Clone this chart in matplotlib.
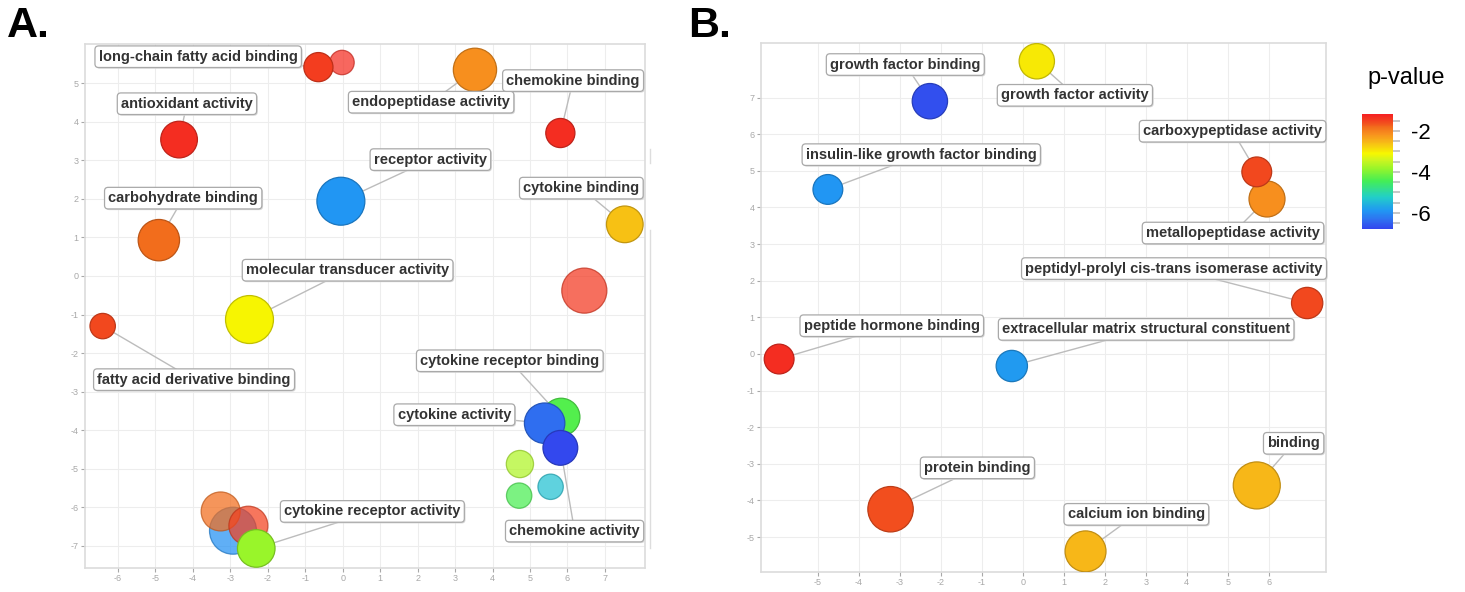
import matplotlib
matplotlib.use("Agg")
import matplotlib.pyplot as plt
import numpy as np
from matplotlib.colors import LinearSegmentedColormap, Normalize, to_rgba
from matplotlib.cm import ScalarMappable
from matplotlib.lines import Line2D
import matplotlib.transforms as mtransforms

plt.rcParams['axes.unicode_minus'] = False
plt.rcParams['font.family'] = ['Liberation Sans', 'DejaVu Sans']

# ---------------- Panel A data (drawing order) ----------------
A_term = [None, "long-chain fatty acid binding", "endopeptidase activity", "chemokine binding",
          "antioxidant activity", "receptor activity", "cytokine binding", "carbohydrate binding",
          None, "molecular transducer activity", "fatty acid derivative binding",
          None, None, None,
          "cytokine receptor binding", "cytokine activity", "chemokine activity",
          None, None, None, "cytokine receptor activity"]
A_x = [-0.02, -0.65, 3.53, 5.81, -4.37, -0.05, 7.53, -4.91, 6.45, -2.49, -6.41,
       4.73, 4.71, 5.55, 5.83, 5.39, 5.81, -2.93, -3.26, -2.52, -2.31]
A_y = [5.54, 5.42, 5.35, 3.71, 3.54, 1.94, 1.34, 0.93, -0.38, -1.13, -1.30,
       -4.88, -5.70, -5.47, -3.66, -3.82, -4.46, -6.61, -6.11, -6.48, -7.07]
A_logp = [-1.30, -1.46, -2.14, -1.29, -1.29, -5.90, -2.62, -1.80, -1.40, -3.09, -1.57,
          -3.66, -4.40, -5.40, -4.33, -6.36, -6.75, -5.97, -1.80, -1.50, -3.83]
A_logsize = [2.6, 3.1, 4.6, 3.1, 3.9, 5.1, 3.9, 4.4, 4.8, 5.1, 2.7,
             2.9, 2.7, 2.7, 4.0, 4.3, 3.7, 5.0, 4.15, 4.15, 4.0]
A_label_x = [None, -3.86, 2.36, 6.15, -4.16, 2.34, 6.37, -4.26, None, 0.13, -3.97,
             None, None, None, 4.46, 2.98, 6.19, None, None, None, 0.79]
A_label_y = [None, 5.69, 4.51, 5.07, 4.47, 3.02, 2.28, 2.02, None, 0.15, -2.69,
             None, None, None, -2.20, -3.60, -6.62, None, None, None, -6.11]
A_xticks = list(range(-6, 8))
A_yticks = list(range(-7, 6))

# ---------------- Panel B data (drawing order) ----------------
B_term = ["growth factor binding", "growth factor activity", "insulin-like growth factor binding",
          "metallopeptidase activity", "carboxypeptidase activity",
          "peptidyl-prolyl cis-trans isomerase activity", "peptide hormone binding",
          "extracellular matrix structural constituent", "binding", "protein binding",
          "calcium ion binding"]
B_x = [-2.27, 0.34, -4.76, 5.96, 5.71, 6.94, -5.95, -0.27, 5.71, -3.23, 1.53]
B_y = [6.90, 7.99, 4.49, 4.23, 4.97, 1.39, -0.14, -0.33, -3.59, -4.24, -5.39]
B_logp = [-6.70, -2.98, -5.90, -2.14, -1.57, -1.57, -1.29, -5.85, -2.53, -1.60, -2.53]
B_logsize = [3.76, 3.76, 3.17, 3.83, 3.17, 3.33, 3.17, 3.33, 5.0, 4.83, 4.35]
B_label_x = [-2.87, 1.27, -2.48, 5.13, 5.12, 3.69, -3.20, 3.01, 6.61, -1.11, 2.77]
B_label_y = [7.90, 7.06, 5.44, 3.30, 6.08, 2.33, 0.77, 0.67, -2.44, -3.11, -4.38]
B_xticks = list(range(-5, 7))
B_yticks = list(range(-5, 8))

# colour scale (log10 p-value)
cbar_min, cbar_max = -6.81, -1.18
cbar_ticks = [-2, -4, -6]

W, H, DPI = 1465, 592, 100
fig = plt.figure(figsize=(W / DPI, H / DPI), dpi=DPI)

cmap = LinearSegmentedColormap.from_list("revigo", [
    (0.00, "#3344ee"), (0.08, "#2f6ff0"), (0.16, "#2196f3"), (0.28, "#22cfc8"),
    (0.42, "#44ee55"), (0.53, "#99f52a"), (0.60, "#ccf520"), (0.66, "#f7f700"),
    (0.76, "#f7b718"), (0.83, "#f7901e"), (0.89, "#f26d1c"), (0.93, "#f24a1e"),
    (1.00, "#f52222")])
norm = Normalize(vmin=cbar_min, vmax=cbar_max)


def px_rect(l, t, r, b):
    return [l / W, (H - b) / H, (r - l) / W, (b - t) / H]


def draw_panel(ax, terms, xs, ys, logp, logsize, lx, ly, xlim, ylim, xticks, yticks):
    fcs, ecs, sizes = [], [], []
    for t, p, ls in zip(terms, logp, logsize):
        rgba = np.array(cmap(norm(p)))
        a = 1.0 if t else 0.72
        fcs.append((rgba[0], rgba[1], rgba[2], a))
        ecs.append((rgba[0] * 0.78, rgba[1] * 0.78, rgba[2] * 0.78, a))
        r_px = 4.7 * ls
        sizes.append((2 * r_px * 72 / DPI) ** 2)
    for i, t in enumerate(terms):
        if t:
            ax.plot([lx[i], xs[i]], [ly[i], ys[i]], color="#bcbcbc", lw=1.0, zorder=2,
                    solid_capstyle="butt")
    ax.scatter(xs, ys, s=sizes, c=fcs, edgecolors=ecs, linewidths=0.9, zorder=3)
    shadow = mtransforms.offset_copy(ax.transData, fig=fig, x=1.2, y=-1.2, units="dots")
    for i, t in enumerate(terms):
        if t:
            ax.text(lx[i], ly[i], t, ha="center", va="center", fontsize=10.5, fontweight="bold",
                    color=(0, 0, 0, 0), transform=shadow, zorder=4,
                    bbox=dict(boxstyle="round,pad=0.26,rounding_size=0.25",
                              fc="#d9d9d9", ec="none"))
            ax.text(lx[i], ly[i], t, ha="center", va="center", fontsize=10.5, fontweight="bold",
                    color="#333333", zorder=5,
                    bbox=dict(boxstyle="round,pad=0.26,rounding_size=0.25",
                              fc="white", ec="#a9a9a9", lw=0.9))
    ax.set_xlim(*xlim)
    ax.set_ylim(*ylim)
    ax.set_xticks(xticks)
    ax.set_yticks(yticks)
    ax.grid(True, color="#ededed", lw=0.8)
    ax.set_axisbelow(True)
    for s in ax.spines.values():
        s.set_color("#dcdcdc")
        s.set_linewidth(1.2)
    ax.tick_params(colors="#a8a8a8", labelsize=6.5, length=3, width=0.8, pad=1.5)


axA = fig.add_axes(px_rect(84.7, 44, 645, 567.7))
draw_panel(axA, A_term, A_x, A_y, A_logp, A_logsize, A_label_x, A_label_y,
           (-6.89, 8.07), (-7.57, 6.02), A_xticks, A_yticks)

axB = fig.add_axes(px_rect(760.7, 43.3, 1326, 571.5))
draw_panel(axB, B_term, B_x, B_y, B_logp, B_logsize, B_label_x, B_label_y,
           (-6.40, 7.40), (-5.94, 8.48), B_xticks, B_yticks)

# screenshot edge artefacts right of panel A
fig.add_artist(Line2D([649.5 / W, 649.5 / W], [1 - 230 / H, 1 - 548 / H], color="#dddddd", lw=1))
fig.add_artist(Line2D([649.5 / W, 649.5 / W], [1 - 149 / H, 1 - 163 / H], color="#dddddd", lw=1))

# colour bar
cax = fig.add_axes(px_rect(1362.3, 114.3, 1392.7, 229.3))
cb = fig.colorbar(ScalarMappable(norm=norm, cmap=cmap), cax=cax)
cb.outline.set_visible(False)
cb.set_ticks(cbar_ticks)
cb.set_ticklabels([str(t) for t in cbar_ticks])
cax.yaxis.set_minor_locator(matplotlib.ticker.MultipleLocator(0.5))
cax.tick_params(which="both", length=5, width=1.2, color="#bdbdbd", labelsize=16, pad=8)
cax.tick_params(which="major", labelcolor="black")
fig.text(1406 / W, 1 - 78 / H, "p-value", ha="center", va="center", fontsize=17, color="black")

fig.text(7 / W, 1 - 6 / H, "A.", ha="left", va="top", fontsize=31, fontweight="bold")
fig.text(688 / W, 1 - 6 / H, "B.", ha="left", va="top", fontsize=31, fontweight="bold")

fig.savefig("out.png", dpi=DPI)
